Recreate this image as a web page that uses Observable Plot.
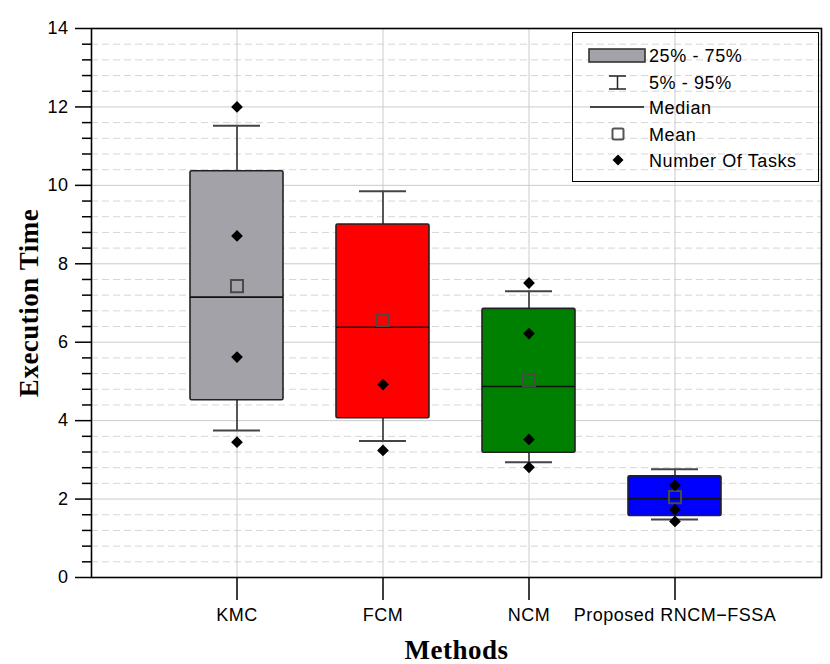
<!DOCTYPE html>
<html><head><meta charset="utf-8">
<script src="https://cdn.jsdelivr.net/npm/d3@7"></script>
<script src="https://cdn.jsdelivr.net/npm/@observablehq/plot@0.6"></script>
<style>
body{margin:0;background:#fff;}
#wrap{position:relative;width:830px;height:664px;}
#legend{position:absolute;left:572px;top:32px;width:247px;height:150px;box-sizing:border-box;border:1.5px solid #000;}
</style>
</head><body><div id="wrap"><div id="legend"></div></div>
<script>
const methods = ["KMC", "FCM", "NCM", "Proposed RNCM\u2212FSSA"];
const q1 = [4.52, 4.06, 3.18, 1.57];
const q3 = [10.36, 9.0, 6.85, 2.58];
const median = [7.15, 6.38, 4.87, 2.01];
const p5 = [3.75, 3.48, 2.94, 1.48];
const p95 = [11.52, 9.85, 7.30, 2.76];
const mean = [7.43, 6.56, 5.03, 2.05];
const tasks = [[12.0, 8.71, 5.62, 3.45], [4.92, 3.24], [7.51, 6.22, 3.52, 2.81], [2.35, 1.73, 1.43]];
const colors = ["#a2a2a8", "#ff0000", "#008000", "#0000ff"];
const majorTicks = [0, 2, 4, 6, 8, 10, 12, 14];
const minorTicks = d3.range(0, 36).filter(i => i % 5 !== 0).map(i => Math.round(i * 4) / 10);
const legendLabels = ["25% - 75%", "5% - 95%", "Median", "Mean", "Number Of Tasks"];

const rows = methods.map((m, i) => ({method: m, q1: q1[i], q3: q3[i], median: median[i], p5: p5[i], p95: p95[i], mean: mean[i], color: colors[i]}));
const taskRows = methods.flatMap((m, i) => tasks[i].map(v => ({method: m, value: v})));

const font = "'Liberation Sans', Arial, sans-serif";
const serif = "'Liberation Serif', 'Times New Roman', serif";

const chart = Plot.plot({
  width: 830,
  height: 664,
  marginLeft: 91,
  marginRight: 9,
  marginTop: 28,
  marginBottom: 87,
  style: {fontFamily: font, fontSize: "18px", color: "black", background: "white", letterSpacing: "0.5px"},
  x: {type: "band", domain: methods, paddingInner: 0.363, paddingOuter: 0.68, label: null},
  y: {domain: [0, 14], label: null},
  color: {type: "identity"},
  marks: [
    Plot.gridY(minorTicks, {stroke: "#d6d6d6", strokeOpacity: 1, strokeDasharray: "7,4"}),
    Plot.gridY(majorTicks, {stroke: "#cbcbcb", strokeOpacity: 1}),
    Plot.gridX({stroke: "#cbcbcb", strokeOpacity: 1}),
    Plot.ruleX(rows, {x: "method", y1: "p5", y2: "p95", stroke: "#333", strokeWidth: 1.6}),
    Plot.tickY(rows, {x: "method", y: "p5", stroke: "#444", strokeWidth: 2, insetLeft: 23, insetRight: 23}),
    Plot.tickY(rows, {x: "method", y: "p95", stroke: "#444", strokeWidth: 2, insetLeft: 23, insetRight: 23}),
    Plot.barY(rows, {x: "method", y1: "q1", y2: "q3", fill: "color", stroke: "#222", strokeWidth: 1.6, rx: 1.5}),
    Plot.tickY(rows, {x: "method", y: "median", stroke: "#111", strokeWidth: 1.6}),
    Plot.dot(rows, {x: "method", y: "mean", symbol: "square", r: 6.8, stroke: "#4a4a4a", strokeWidth: 2, fill: "none"}),
    Plot.dot(taskRows, {x: "method", y: "value", symbol: "diamond2", r: 5.3, fill: "black"}),
    Plot.frame({stroke: "black", strokeWidth: 1.6}),
    Plot.axisY(minorTicks, {tickSize: 9, text: null, stroke: "black", strokeWidth: 1.5, label: null}),
    Plot.axisY(majorTicks, {tickSize: 16, tickPadding: 7, fontSize: 18, fontFamily: font, stroke: "black", strokeWidth: 1.5, fill: "black", label: null}),
    Plot.axisX({tickSize: 23, tickPadding: 8, fontSize: 18, fontFamily: font, stroke: "black", strokeWidth: 1.5, fill: "black", label: null}),
    Plot.text(["Methods"], {frameAnchor: "bottom", lineAnchor: "middle", dy: 73, fontSize: 27, fontWeight: "bold", fontFamily: serif, fill: "black", letterSpacing: 0}),
    Plot.text(["Execution Time"], {frameAnchor: "left", textAnchor: "middle", lineAnchor: "middle", rotate: -90, dx: -62, fontSize: 27, fontWeight: "bold", fontFamily: serif, fill: "black"})
  ]
});
document.getElementById("wrap").prepend(chart);

// legend
const lg = d3.select("#legend").append("svg").attr("width", 245).attr("height", 148)
  .style("position", "absolute").style("left", "0").style("top", "0")
  .style("font-family", font).style("font-size", "18px").style("letter-spacing", "0.6px");
const rowsY = [22, 49, 74, 101, 127];
lg.append("rect").attr("x", 16).attr("y", 16).attr("width", 56).attr("height", 13)
  .attr("fill", colors[0]).attr("stroke", "#333").attr("stroke-width", 1.6);
lg.append("line").attr("x1", 44.5).attr("x2", 44.5).attr("y1", 43).attr("y2", 56).attr("stroke", "#222").attr("stroke-width", 1.5);
lg.append("line").attr("x1", 36).attr("x2", 53).attr("y1", 43).attr("y2", 43).attr("stroke", "#222").attr("stroke-width", 1.5);
lg.append("line").attr("x1", 36).attr("x2", 53).attr("y1", 56).attr("y2", 56).attr("stroke", "#222").attr("stroke-width", 1.5);
lg.append("line").attr("x1", 17).attr("x2", 71).attr("y1", 74).attr("y2", 74).attr("stroke", "#111").attr("stroke-width", 1.6);
lg.append("rect").attr("x", 39.5).attr("y", 95.5).attr("width", 11).attr("height", 11).attr("rx", 1.5)
  .attr("fill", "none").attr("stroke", "#555").attr("stroke-width", 2);
lg.append("path").attr("d", "M45,121.5L50.5,127L45,132.5L39.5,127Z").attr("fill", "black");
lg.selectAll("text.l").data(legendLabels).join("text").attr("class", "l")
  .attr("x", 76).attr("y", (d, i) => rowsY[i] + 1).attr("dominant-baseline", "central").attr("fill", "black").text(d => d);
</script>
</body></html>
